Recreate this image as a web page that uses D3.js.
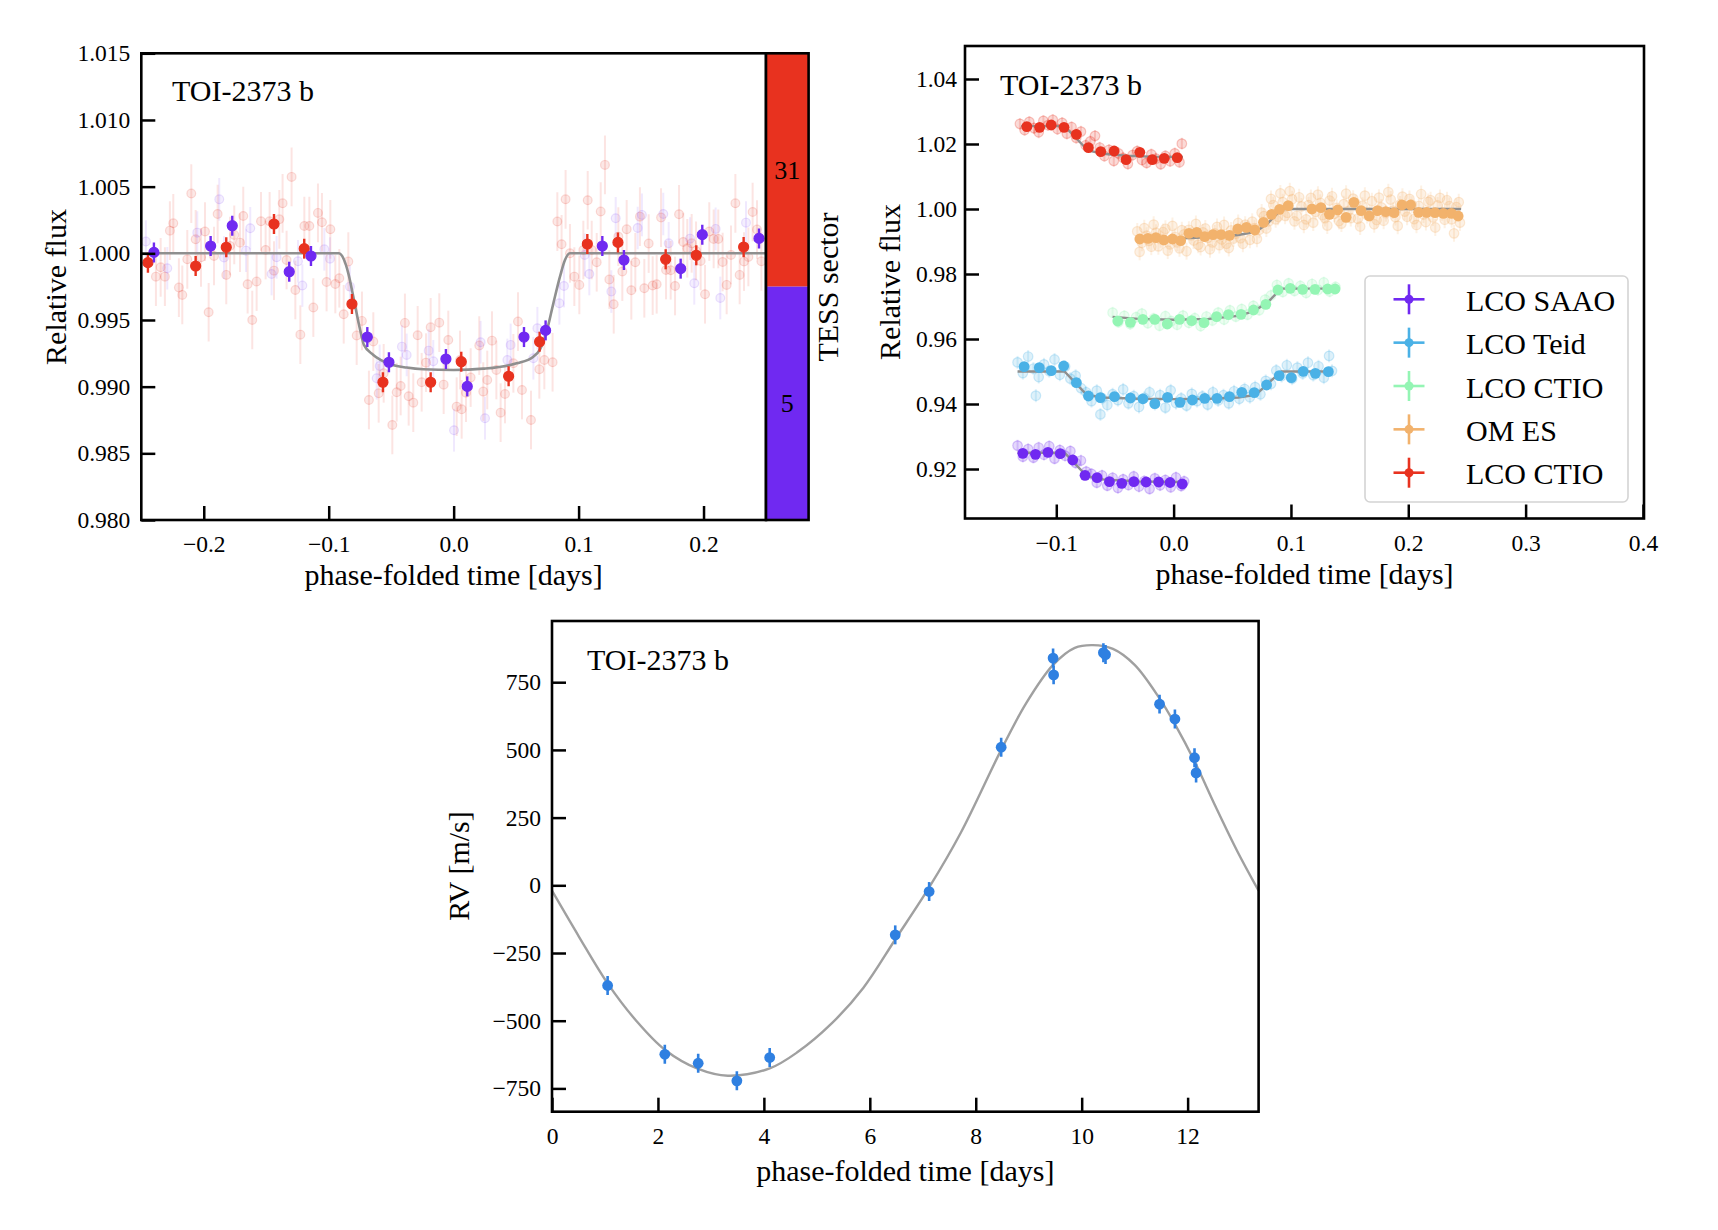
<!DOCTYPE html>
<html><head><meta charset="utf-8">
<script src="https://cdn.jsdelivr.net/npm/d3@7"></script>
<style>
body{margin:0;background:#fff;}
svg text{font-family:"Liberation Serif","Times New Roman",serif;fill:#000;}
</style></head><body>
<svg id="c" width="1718" height="1230"></svg>
<script>
// ---------------- DATA ----------------
// Panel 1 (TESS, phase folded)
const tess31Bin = [[-0.2447,0.9993],[-0.2065,0.99905],[-0.1820,1.00045],[-0.1438,1.0022],[-0.1196,1.00035],[-0.0814,0.9962],[-0.0566,0.99033],[-0.0184,0.99033],[0.0061,0.99187],[0.0440,0.99078],[0.0688,0.99337],[0.1070,1.0007],[0.1315,1.00082],[0.1697,0.99955],[0.1942,0.99985],[0.2321,1.00047]];
const tess5Bin = [[-0.2399,1.00007],[-0.1945,1.00055],[-0.1772,1.00207],[-0.1316,0.99862],[-0.1142,0.9998],[-0.0691,0.99372],[-0.0518,0.99183],[-0.0062,0.99207],[0.0109,0.99002],[0.0563,0.99372],[0.0736,0.99422],[0.1190,1.00055],[0.1363,0.9995],[0.1817,0.99885],[0.1990,1.0014],[0.2444,1.00112]];
const tess31Raw = [[-0.2383,0.99825],[-0.2311,0.99825],[-0.2345,0.99895],[-0.2271,1.0017],[-0.2244,1.00225],[-0.2199,0.99743],[-0.2172,0.99688],[-0.2132,0.99955],[-0.2100,1.00448],[-0.2065,1.00105],[-0.2022,0.9997],[-0.1990,1.00163],[-0.1961,0.99558],[-0.1918,0.9998],[-0.1889,1.00295],[-0.1820,0.99838],[-0.1790,1.00055],[-0.1756,1.00138],[-0.1710,1.0008],[-0.1684,1.0028],[-0.1649,0.99768],[-0.1612,0.995],[-0.1577,0.99788],[-0.1542,1.0024],[-0.1505,1.00025],[-0.1473,1.0024],[-0.1438,0.9987],[-0.1395,1.00255],[-0.1369,1.00375],[-0.1337,0.9995],[-0.1297,1.00573],[-0.1267,0.99725],[-0.1227,0.9939],[-0.1195,1.00205],[-0.1155,1.00205],[-0.1123,0.99593],[-0.1086,1.00303],[-0.1054,1.00233],[-0.1017,0.99785],[-0.0987,1.0018],[-0.0947,0.9977],[-0.0915,0.99813],[-0.0880,0.99543],[-0.0843,0.99938],[-0.0776,0.99383],[-0.0734,0.99493],[-0.0678,0.989],[-0.0643,0.99338],[-0.0600,0.9895],[-0.0560,0.991],[-0.0491,0.98713],[-0.0456,0.98958],[-0.0424,0.99005],[-0.0390,0.99478],[-0.0360,0.98928],[-0.0323,0.9888],[-0.0288,0.99385],[-0.0256,0.99033],[-0.0221,0.9918],[-0.0184,0.99445],[-0.0115,0.9948],[-0.0080,0.99015],[-0.0043,0.9935],[0.0024,0.9885],[0.0051,0.992],[0.0064,0.9883],[0.0099,0.98955],[0.0136,0.99068],[0.0205,0.99308],[0.0237,0.98963],[0.0269,0.9905],[0.0307,0.99345],[0.0342,0.99125],[0.0376,0.98805],[0.0411,0.98945],[0.0478,0.99175],[0.0515,0.99488],[0.0547,0.98975],[0.0619,0.9875],[0.0686,0.9913],[0.0726,0.992],[0.0792,0.99183],[0.0830,1.00238],[0.0864,1.00068],[0.0896,1.00405],[0.0931,1.0],[0.0966,0.99825],[0.1006,0.99763],[0.1038,1.00025],[0.1073,1.00398],[0.1105,1.00025],[0.1145,0.99933],[0.1177,1.00313],[0.1211,1.00663],[0.1246,0.99803],[0.1281,0.99618],[0.1318,1.00125],[0.1350,0.99863],[0.1385,1.0018],[0.1422,0.99723],[0.1454,0.99933],[0.1491,1.00275],[0.1526,0.99738],[0.1561,1.00073],[0.1593,0.99758],[0.1625,0.99768],[0.1660,1.00268],[0.1700,0.99875],[0.1737,0.99873],[0.1772,0.99755],[0.1804,1.00293],[0.1838,1.00085],[0.1870,1.00038],[0.1905,1.00075],[0.1940,1.00018],[0.1977,0.99943],[0.2012,0.99693],[0.2046,1.00163],[0.2081,1.00108],[0.2118,1.00108],[0.2153,0.99935],[0.2185,0.99763],[0.2220,0.99988],[0.2255,1.00375],[0.2289,0.99838],[0.2324,0.99938],[0.2359,0.99973],[0.2393,1.0031],[0.2428,1.00178],[0.2463,0.9994]];
const tess5Raw = [[-0.2463,1.00088],[-0.2292,0.99888],[-0.2052,1.00155],[-0.1876,1.00405],[-0.1838,0.99968],[-0.1662,1.0002],[-0.1628,1.00188],[-0.1457,0.99845],[-0.1417,0.9997],[-0.1246,0.9994],[-0.1211,0.99758],[-0.1035,1.0003],[-0.0990,0.9996],[-0.0830,0.9975],[-0.0616,0.99063],[-0.0592,0.99155],[-0.0414,0.993],[-0.0376,0.99238],[-0.0200,0.9927],[-0.0163,0.9919],[0.0003,0.98673],[0.0216,0.99333],[0.0251,0.98763],[0.0430,0.992],[0.0456,0.99313],[0.0638,0.99213],[0.0670,0.99438],[0.0846,0.99625],[0.0883,0.99755],[0.1049,0.99988],[0.1086,0.99845],[0.1262,0.99713],[0.1297,1.00263],[0.1473,1.0019],[0.1507,1.00288],[0.1678,1.00295],[0.1721,1.00075],[0.1892,1.0011],[0.1926,0.99775],[0.2097,1.00183],[0.2134,0.99665],[0.2340,1.0023]];
const tessModel = [[-0.25,1.0],[-0.092,1.0],[-0.0883,0.99963],[-0.0843,0.9985],[-0.0803,0.99675],[-0.0763,0.99488],[-0.0736,0.99375],[-0.0718,0.99313],[-0.0643,0.99238],[-0.051,0.9917],[-0.0376,0.99143],[-0.0243,0.9913],[0.0,0.99125],[0.0237,0.99135],[0.0504,0.99175],[0.0638,0.99225],[0.0691,0.9928],[0.0744,0.99413],[0.0798,0.99625],[0.0851,0.99825],[0.0891,0.9995],[0.0931,1.0],[0.25,1.0]];
const p1XTicks = [-0.2,-0.1,0.0,0.1,0.2];
const p1YTicks = [0.980,0.985,0.990,0.995,1.000,1.005,1.010,1.015];
const sectorLabels = ["31","5"];

// Panel 2 (ground-based light curves)
const saaoBin = [[-0.1285,0.92482],[-0.1177,0.92451],[-0.1071,0.92513],[-0.0966,0.92472],[-0.0860,0.92277],[-0.0755,0.91805],[-0.0652,0.91733],[-0.0547,0.9161],[-0.0442,0.91559],[-0.0339,0.9161],[-0.0234,0.916],[-0.0128,0.916],[-0.0030,0.91585],[0.0074,0.91538]];
const saaoRaw = [[-0.133,0.9272],[-0.1285,0.9238],[-0.124,0.9261],[-0.1195,0.9235],[-0.115,0.9266],[-0.1105,0.9244],[-0.106,0.927],[-0.1015,0.9232],[-0.097,0.9258],[-0.0925,0.9241],[-0.088,0.9255],[-0.0835,0.9219],[-0.079,0.9226],[-0.0745,0.9192],[-0.070,0.9185],[-0.0655,0.9158],[-0.061,0.918],[-0.0565,0.9149],[-0.052,0.9173],[-0.0475,0.9142],[-0.043,0.9168],[-0.0385,0.9151],[-0.034,0.9177],[-0.0295,0.9146],[-0.025,0.9163],[-0.0205,0.9139],[-0.016,0.9171],[-0.0115,0.915],[-0.007,0.9166],[-0.0025,0.9144],[0.002,0.9174],[0.0065,0.9148],[0.009,0.9162]];
const saaoModel = [[-0.133,0.925],[-0.093,0.925],[-0.074,0.9178],[-0.06,0.9168],[-0.03,0.9162],[0.0,0.916],[0.008,0.916]];

const teidBin = [[-0.1274,0.95149],[-0.1145,0.95118],[-0.1043,0.95026],[-0.0937,0.95169],[-0.0829,0.94656],[-0.0726,0.94246],[-0.0624,0.94195],[-0.0504,0.94226],[-0.0368,0.94185],[-0.0262,0.94160],[-0.0160,0.9401],[-0.0052,0.94205],[0.0054,0.94051],[0.0160,0.94123],[0.0265,0.94174],[0.0370,0.94174],[0.0476,0.94226],[0.0581,0.94359],[0.0687,0.94349],[0.0792,0.94585],[0.0900,0.94872],[0.1003,0.9481],[0.1105,0.95005],[0.1208,0.94944],[0.1319,0.94995]];
const teidRaw = [[-0.133,0.9528],[-0.1285,0.9495],[-0.124,0.9546],[-0.1195,0.9509],[-0.1174,0.94256],[-0.115,0.9483],[-0.1105,0.9522],[-0.106,0.9501],[-0.1015,0.9537],[-0.097,0.949],[-0.0925,0.9515],[-0.088,0.9478],[-0.0835,0.9487],[-0.079,0.9449],[-0.0745,0.9436],[-0.070,0.9409],[-0.0655,0.9441],[-0.0624,0.9368],[-0.061,0.9418],[-0.0565,0.9397],[-0.052,0.943],[-0.0475,0.9412],[-0.043,0.9445],[-0.0385,0.9402],[-0.034,0.9424],[-0.0295,0.9391],[-0.025,0.9419],[-0.0205,0.9436],[-0.016,0.94],[-0.0115,0.9427],[-0.007,0.9389],[-0.0025,0.9442],[0.002,0.9403],[0.0065,0.9417],[0.011,0.9395],[0.0155,0.9431],[0.020,0.9409],[0.0245,0.9423],[0.029,0.9398],[0.0335,0.9436],[0.038,0.9411],[0.0425,0.9427],[0.047,0.9402],[0.0515,0.9439],[0.056,0.9416],[0.0605,0.9446],[0.065,0.9421],[0.0695,0.9452],[0.074,0.943],[0.0785,0.9471],[0.083,0.9462],[0.0875,0.9503],[0.092,0.9486],[0.0965,0.9519],[0.101,0.9478],[0.1055,0.9512],[0.110,0.9494],[0.1145,0.9527],[0.119,0.9489],[0.1235,0.9516],[0.128,0.9481],[0.1325,0.9548],[0.135,0.9502]];
const teidModel = [[-0.133,0.95],[-0.093,0.95],[-0.074,0.9428],[-0.06,0.942],[-0.03,0.9416],[0.0,0.9415],[0.03,0.9416],[0.055,0.942],[0.07,0.9428],[0.085,0.9478],[0.092,0.95],[0.134,0.95]];

const ctioGBin = [[-0.0476,0.96554],[-0.0368,0.96513],[-0.0262,0.96605],[-0.0160,0.96605],[-0.0054,0.96462],[0.0051,0.96605],[0.0154,0.96564],[0.0259,0.96503],[0.0366,0.96687],[0.0467,0.96748],[0.0575,0.96759],[0.0681,0.96892],[0.0786,0.97067],[0.0889,0.97508],[0.0994,0.97559],[0.1100,0.97528],[0.1205,0.97528],[0.1313,0.97538],[0.1376,0.97538]];
const ctioGRaw = [[-0.052,0.9681],[-0.047,0.9652],[-0.042,0.9671],[-0.037,0.9646],[-0.032,0.9667],[-0.027,0.9678],[-0.022,0.9649],[-0.017,0.9663],[-0.012,0.9641],[-0.007,0.967],[-0.002,0.9655],[0.003,0.9644],[0.008,0.9672],[0.013,0.965],[0.018,0.9664],[0.023,0.964],[0.028,0.9669],[0.033,0.9657],[0.038,0.9681],[0.043,0.966],[0.048,0.9688],[0.053,0.9669],[0.058,0.9692],[0.063,0.9675],[0.068,0.9702],[0.073,0.9689],[0.078,0.9721],[0.083,0.9734],[0.088,0.9766],[0.093,0.9745],[0.098,0.9771],[0.103,0.9748],[0.108,0.9763],[0.113,0.9742],[0.118,0.9769],[0.123,0.9751],[0.128,0.9774],[0.133,0.9746],[0.138,0.976]];
const ctioGModel = [[-0.052,0.9668],[-0.03,0.9662],[0.0,0.9659],[0.03,0.9662],[0.055,0.9671],[0.068,0.9685],[0.08,0.9712],[0.088,0.9742],[0.092,0.9755],[0.138,0.9755]];

const omesBin = [[-0.0288,0.99077],[-0.0219,0.99097],[-0.0151,0.99118],[-0.0083,0.99046],[-0.0009,0.99077],[0.0060,0.99026],[0.0131,0.99251],[0.0197,0.99282],[0.0265,0.99149],[0.0336,0.9921],[0.0405,0.9921],[0.0476,0.9919],[0.0547,0.99385],[0.0621,0.99436],[0.0692,0.99354],[0.0766,0.9959],[0.0835,0.99836],[0.0903,0.9999],[0.0977,1.00103],[0.1179,1.0],[0.1256,1.00041],[0.1328,0.99836],[0.1399,0.99969],[0.1470,0.99744],[0.1536,1.00205],[0.1598,0.99949],[0.1667,0.99785],[0.1738,0.99949],[0.1809,0.99918],[0.1880,0.99887],[0.1946,1.00123],[0.2020,1.00123],[0.2088,0.99897],[0.2157,0.99897],[0.2228,0.99887],[0.2299,0.99867],[0.2368,0.99867],[0.2425,0.99785]];
const omesRaw = [[-0.031,0.9931],[-0.027,0.9896],[-0.023,0.9918],[-0.019,0.9884],[-0.015,0.9927],[-0.011,0.9907],[-0.007,0.9939],[-0.003,0.9891],[0.001,0.9914],[0.005,0.9879],[0.009,0.9922],[0.013,0.9936],[0.017,0.9903],[0.021,0.989],[0.025,0.9928],[0.029,0.9911],[0.033,0.9897],[0.037,0.9945],[0.041,0.9906],[0.045,0.9893],[0.049,0.9934],[0.053,0.9924],[0.057,0.991],[0.061,0.9952],[0.065,0.9905],[0.069,0.9941],[0.073,0.9936],[0.077,0.9978],[0.081,0.9962],[0.085,1.0012],[0.089,0.9976],[0.093,1.0021],[0.097,0.9988],[0.101,1.003],[0.105,0.9979],[0.109,1.0008],[0.113,0.9968],[0.117,1.0034],[0.121,0.9991],[0.125,1.0019],[0.129,0.9972],[0.133,1.0026],[0.137,0.9985],[0.141,0.9963],[0.145,1.0015],[0.149,0.9994],[0.153,1.0032],[0.157,0.997],[0.161,1.001],[0.165,0.9981],[0.169,1.0024],[0.173,0.9966],[0.177,1.0005],[0.181,0.9987],[0.185,1.0029],[0.189,0.9975],[0.193,1.0014],[0.197,0.9992],[0.201,1.0031],[0.205,0.9969],[0.209,1.0009],[0.213,0.9983],[0.217,1.0022],[0.221,0.9974],[0.225,1.0011],[0.229,0.999],[0.233,1.0027],[0.237,0.9968],[0.241,1.0006],[0.244,0.9958],
  [-0.029,0.9868],[-0.025,0.9941],[-0.021,0.9902],[-0.017,0.9952],[-0.013,0.9885],[-0.009,0.9929],[-0.005,0.9872],[-0.001,0.9948],[0.003,0.9897],[0.007,0.9935],[0.011,0.987],[0.015,0.9919],[0.019,0.9954],[0.023,0.9883],[0.027,0.994],[0.031,0.9876],[0.035,0.9925],[0.039,0.9889],[0.043,0.9951],[0.047,0.988],[0.051,0.9909],[0.055,0.9957],[0.059,0.9893],[0.063,0.9938],[0.067,0.9961],[0.071,0.9908],[0.075,0.9989],[0.079,0.994],[0.083,1.0031],[0.087,0.9968],[0.091,1.0048],[0.095,0.9979],[0.099,1.0055],[0.103,0.9962],[0.107,1.0036],[0.111,0.9951],[0.115,1.0012],[0.119,0.9958],[0.123,1.0044],[0.127,0.9981],[0.131,0.9949],[0.135,1.0039],[0.139,1.0003],[0.143,0.9955],[0.147,1.0047],[0.151,0.9972],[0.155,1.0018],[0.159,0.9946],[0.163,1.0041],[0.167,0.9989],[0.171,0.9953],[0.175,1.0035],[0.179,0.9964],[0.183,1.0052],[0.187,0.9995],[0.191,0.9948],[0.195,1.0038],[0.199,0.9976],[0.203,1.0013],[0.207,0.9951],[0.211,1.0046],[0.215,0.996],[0.219,1.0027],[0.223,0.9943],[0.227,1.0034],[0.231,0.9967],[0.235,1.0009],[0.239,0.9925],[0.243,1.0021]];
const omesModel = [[-0.03,0.991],[0.0,0.9909],[0.03,0.9913],[0.055,0.992],[0.07,0.993],[0.08,0.9955],[0.088,0.9985],[0.093,1.0],[0.245,1.0]];

const ctioRBin = [[-0.1251,1.02533],[-0.1142,1.02513],[-0.1043,1.02585],[-0.0934,1.02513],[-0.0829,1.02297],[-0.0726,1.01887],[-0.0621,1.01764],[-0.0507,1.01785],[-0.0405,1.01518],[-0.0288,1.01744],[-0.0182,1.01518],[-0.0080,1.01559],[0.0031,1.0158]];
const ctioRRaw = [[-0.131,1.0262],[-0.127,1.0243],[-0.123,1.0268],[-0.119,1.0249],[-0.115,1.0236],[-0.111,1.0271],[-0.107,1.0258],[-0.103,1.0274],[-0.099,1.0246],[-0.095,1.0265],[-0.091,1.0232],[-0.087,1.0252],[-0.083,1.0219],[-0.079,1.0238],[-0.075,1.0196],[-0.071,1.0208],[-0.067,1.0225],[-0.063,1.0189],[-0.059,1.0163],[-0.055,1.0182],[-0.051,1.0148],[-0.047,1.0171],[-0.043,1.0157],[-0.039,1.0139],[-0.035,1.0166],[-0.031,1.0178],[-0.027,1.0151],[-0.023,1.0142],[-0.019,1.0168],[-0.015,1.0155],[-0.011,1.0138],[-0.007,1.0163],[-0.003,1.0147],[0.001,1.0171],[0.005,1.0144],[0.007,1.0201]];
const ctioRModel = [[-0.13,1.0255],[-0.093,1.0255],[-0.073,1.018],[-0.06,1.017],[-0.04,1.0164],[-0.02,1.0161],[0.008,1.016]];

const p2XTicks = [-0.1,0.0,0.1,0.2,0.3,0.4];
const p2YTicks = [0.92,0.94,0.96,0.98,1.00,1.02,1.04];
const legendNames = ["LCO SAAO","LCO Teid","LCO CTIO","OM ES","LCO CTIO"];
const legendColors = ["#7029f1","#4ab1e6","#94f5b4","#f2b26c","#e8321f"];

// Panel 3 (RV)
const rvTime = [1.05,2.13,2.76,3.49,4.11,6.48,7.12,8.48,9.46,9.47,10.41,10.45,11.47,11.76,12.13,12.16];
const rvVal = [-370,-624,-657,-722,-636,-183,-23,510,839,777,859,852,669,614,471,415];
const rvErr = [35,35,35,35,35,35,35,35,35,35,35,35,35,35,35,35];
const rvModel = [[0,-20],[0.51,-190],[1.05,-362],[1.59,-500],[2.13,-607],[2.76,-678],[3.32,-703],[4.11,-676],[4.65,-614],[5.27,-512],[5.88,-378],[6.48,-200],[7.12,-8],[7.72,195],[8.48,500],[8.95,672],[9.46,814],[9.87,877],[10.21,887],[10.59,873],[11.0,814],[11.47,690],[11.76,595],[12.13,458],[12.53,290],[12.94,125],[13.34,-20]];
const p3XTicks = [0,2,4,6,8,10,12];
const p3YTicks = [-750,-500,-250,0,250,500,750];

// ---------------- DRAWING ----------------
const svg = d3.select('#c');
const TICK = 23.5, LAB = 30;
const red = "#e8321f", purple = "#7029f1";

function frameAxes(g, x, y, box, xt, yt, xf, yf, ypad) {
  g.append('g').attr('transform', `translate(0,${box.b})`)
    .call(d3.axisBottom(x).tickValues(xt).tickFormat(xf).tickSize(-14).tickPadding(15.5))
    .call(a => { a.select('.domain').remove(); a.selectAll('line').attr('stroke','#000').attr('stroke-width',2.5);
      a.selectAll('text').attr('font-size',TICK).attr('font-family','"Liberation Serif",serif'); });
  g.append('g').attr('transform', `translate(${box.l},0)`)
    .call(d3.axisLeft(y).tickValues(yt).tickFormat(yf).tickSize(-14).tickPadding(ypad))
    .call(a => { a.select('.domain').remove(); a.selectAll('line').attr('stroke','#000').attr('stroke-width',2.5);
      a.selectAll('text').attr('font-size',TICK).attr('font-family','"Liberation Serif",serif'); });
  g.append('rect').attr('x',box.l).attr('y',box.t).attr('width',box.r-box.l).attr('height',box.b-box.t)
    .attr('fill','none').attr('stroke','#000').attr('stroke-width',2.6);
}
function clip(id, box) {
  svg.append('clipPath').attr('id', id).append('rect')
    .attr('x',box.l).attr('y',box.t).attr('width',box.r-box.l).attr('height',box.b-box.t);
}
function errPoints(g, data, x, y, err, color, r, opFill, opStroke, opErr, ew) {
  g.selectAll(null).data(data).enter().append('line')
    .attr('x1', d => x(d[0])).attr('x2', d => x(d[0]))
    .attr('y1', d => y(d[1]-err)).attr('y2', d => y(d[1]+err))
    .attr('stroke', color).attr('stroke-opacity', opErr).attr('stroke-width', ew);
  g.selectAll(null).data(data).enter().append('circle')
    .attr('cx', d => x(d[0])).attr('cy', d => y(d[1])).attr('r', r)
    .attr('fill', color).attr('fill-opacity', opFill)
    .attr('stroke', color).attr('stroke-opacity', opStroke).attr('stroke-width', 1.2);
}

// ---- Panel 1 ----
const b1 = {l:141.3, r:766, t:53.3, b:520};
const x1 = d3.scaleLinear().domain([-0.25,0.25]).range([b1.l,b1.r]);
const y1 = d3.scaleLinear().domain([0.98,1.015]).range([b1.b,b1.t]);
clip('cp1', b1);
const g1 = svg.append('g');
const d1 = g1.append('g').attr('clip-path','url(#cp1)');
errPoints(d1, tess31Raw, x1, y1, 0.0022, red, 4.4, 0.11, 0.16, 0.13, 2);
errPoints(d1, tess5Raw, x1, y1, 0.0016, purple, 4.4, 0.08, 0.13, 0.10, 2);
d1.append('path').datum(tessModel).attr('fill','none').attr('stroke','#8f8f8f').attr('stroke-width',2.6)
  .attr('d', d3.line().x(d => x1(d[0])).y(d => y1(d[1])).curve(d3.curveMonotoneX));
errPoints(d1, tess31Bin, x1, y1, 0.00075, red, 5, 1, 1, 1, 2.4);
errPoints(d1, tess5Bin, x1, y1, 0.00075, purple, 5, 1, 1, 1, 2.4);
frameAxes(g1, x1, y1, b1, p1XTicks, p1YTicks, d3.format('.1f'), d3.format('.3f'), 11);
// colorbar
const cb = {l:766, r:808.6};
const cbScale = d3.scaleBand().domain(sectorLabels).range([b1.t, b1.b]);
const cbColors = [red, purple];
g1.selectAll(null).data(sectorLabels).enter().append('rect')
  .attr('x', cb.l).attr('width', cb.r-cb.l).attr('y', d => cbScale(d)).attr('height', cbScale.bandwidth())
  .attr('fill', (d,i) => cbColors[i]);
g1.selectAll(null).data(sectorLabels).enter().append('text')
  .attr('x', (cb.l+cb.r)/2).attr('y', d => cbScale(d)+cbScale.bandwidth()/2).attr('dy','0.35em')
  .attr('text-anchor','middle').attr('font-size',26).text(d => d);
g1.append('rect').attr('x',cb.l).attr('y',b1.t).attr('width',cb.r-cb.l).attr('height',b1.b-b1.t)
  .attr('fill','none').attr('stroke','#000').attr('stroke-width',2.6);
g1.append('text').attr('transform','translate(838,287) rotate(-90)').attr('text-anchor','middle').attr('font-size',LAB).text('TESS sector');
g1.append('text').attr('transform','translate(66,287) rotate(-90)').attr('text-anchor','middle').attr('font-size',LAB).text('Relative flux');
g1.append('text').attr('x',(b1.l+b1.r)/2).attr('y',585).attr('text-anchor','middle').attr('font-size',LAB).text('phase-folded time [days]');
g1.append('text').attr('x',172).attr('y',101).attr('font-size',LAB).text('TOI-2373 b');

// ---- Panel 2 ----
const b2 = {l:965, r:1644, t:46, b:518.5};
const x2 = d3.scaleLinear().domain([-0.1778,0.4009]).range([b2.l,b2.r]);
const y2 = d3.scaleLinear().domain([0.90477,1.05015]).range([b2.b,b2.t]);
clip('cp2', b2);
const g2 = svg.append('g');
const d2 = g2.append('g').attr('clip-path','url(#cp2)');
const sets2 = [
  {bin:saaoBin, raw:saaoRaw, model:saaoModel, color:legendColors[0], fe:0.0018},
  {bin:teidBin, raw:teidRaw, model:teidModel, color:legendColors[1], fe:0.002},
  {bin:ctioGBin, raw:ctioGRaw, model:ctioGModel, color:legendColors[2], fe:0.0018},
  {bin:omesBin, raw:omesRaw, model:omesModel, color:legendColors[3], fe:0.0026},
  {bin:ctioRBin, raw:ctioRRaw, model:ctioRModel, color:legendColors[4], fe:0.0018}
];
const line2 = d3.line().x(d => x2(d[0])).y(d => y2(d[1]));
sets2.forEach(s => errPoints(d2, s.raw, x2, y2, s.fe, s.color, 4.8, 0.18, 0.26, 0.18, 2));
sets2.forEach(s => d2.append('path').datum(s.model).attr('fill','none').attr('stroke','#8f8f8f').attr('stroke-width',2.4).attr('d', line2));
sets2.forEach(s => d2.selectAll(null).data(s.bin).enter().append('circle')
  .attr('cx', d => x2(d[0])).attr('cy', d => y2(d[1])).attr('r', 5.4).attr('fill', s.color));
frameAxes(g2, x2, y2, b2, p2XTicks, p2YTicks, d3.format('.1f'), d3.format('.2f'), 8);
g2.append('text').attr('transform','translate(900,282) rotate(-90)').attr('text-anchor','middle').attr('font-size',LAB).text('Relative flux');
g2.append('text').attr('x',(b2.l+b2.r)/2).attr('y',584).attr('text-anchor','middle').attr('font-size',LAB).text('phase-folded time [days]');
g2.append('text').attr('x',1000).attr('y',95).attr('font-size',LAB).text('TOI-2373 b');
// legend
const lg = g2.append('g');
lg.append('rect').attr('x',1365).attr('y',276).attr('width',263).attr('height',226).attr('rx',5)
  .attr('fill','#fff').attr('fill-opacity',0.85).attr('stroke','#d4d4d4').attr('stroke-width',1.6);
const ly = d3.scalePoint().domain(d3.range(legendNames.length)).range([299.3, 472.7]);
legendNames.forEach((n,i) => {
  const cy = ly(i), c = legendColors[i];
  lg.append('line').attr('x1',1393.5).attr('x2',1424.5).attr('y1',cy).attr('y2',cy).attr('stroke',c).attr('stroke-width',2.6);
  lg.append('line').attr('x1',1409).attr('x2',1409).attr('y1',cy-15).attr('y2',cy+15).attr('stroke',c).attr('stroke-width',2.6);
  lg.append('circle').attr('cx',1409).attr('cy',cy).attr('r',4.5).attr('fill',c);
  lg.append('text').attr('x',1466).attr('y',cy+11.5).attr('font-size',LAB).text(n);
});

// ---- Panel 3 ----
const b3 = {l:552, r:1258.6, t:621, b:1111.7};
const x3 = d3.scaleLinear().domain([0,13.34]).range([b3.l,b3.r]);
const y3 = d3.scaleLinear().domain([-836,976]).range([b3.b,b3.t]);
clip('cp3', b3);
const g3 = svg.append('g');
const d3g = g3.append('g').attr('clip-path','url(#cp3)');
d3g.append('path').datum(rvModel).attr('fill','none').attr('stroke','#a0a0a0').attr('stroke-width',2.4)
  .attr('d', d3.line().x(d => x3(d[0])).y(d => y3(d[1])).curve(d3.curveCatmullRom.alpha(0.5)));
const rvData = rvTime.map((t,i) => [t, rvVal[i], rvErr[i]]);
const rvColor = "#2f80e1";
d3g.selectAll(null).data(rvData).enter().append('line')
  .attr('x1', d => x3(d[0])).attr('x2', d => x3(d[0])).attr('y1', d => y3(d[1]-d[2])).attr('y2', d => y3(d[1]+d[2]))
  .attr('stroke', rvColor).attr('stroke-width', 2.6);
d3g.selectAll(null).data(rvData).enter().append('circle')
  .attr('cx', d => x3(d[0])).attr('cy', d => y3(d[1])).attr('r', 5.4).attr('fill', rvColor);
frameAxes(g3, x3, y3, b3, p3XTicks, p3YTicks, d3.format('d'), d3.format('d'), 11);
g3.append('text').attr('transform','translate(469,866) rotate(-90)').attr('text-anchor','middle').attr('font-size',LAB).text('RV [m/s]');
g3.append('text').attr('x',(b3.l+b3.r)/2).attr('y',1181).attr('text-anchor','middle').attr('font-size',LAB).text('phase-folded time [days]');
g3.append('text').attr('x',587).attr('y',670).attr('font-size',LAB).text('TOI-2373 b');
</script>
</body></html>
